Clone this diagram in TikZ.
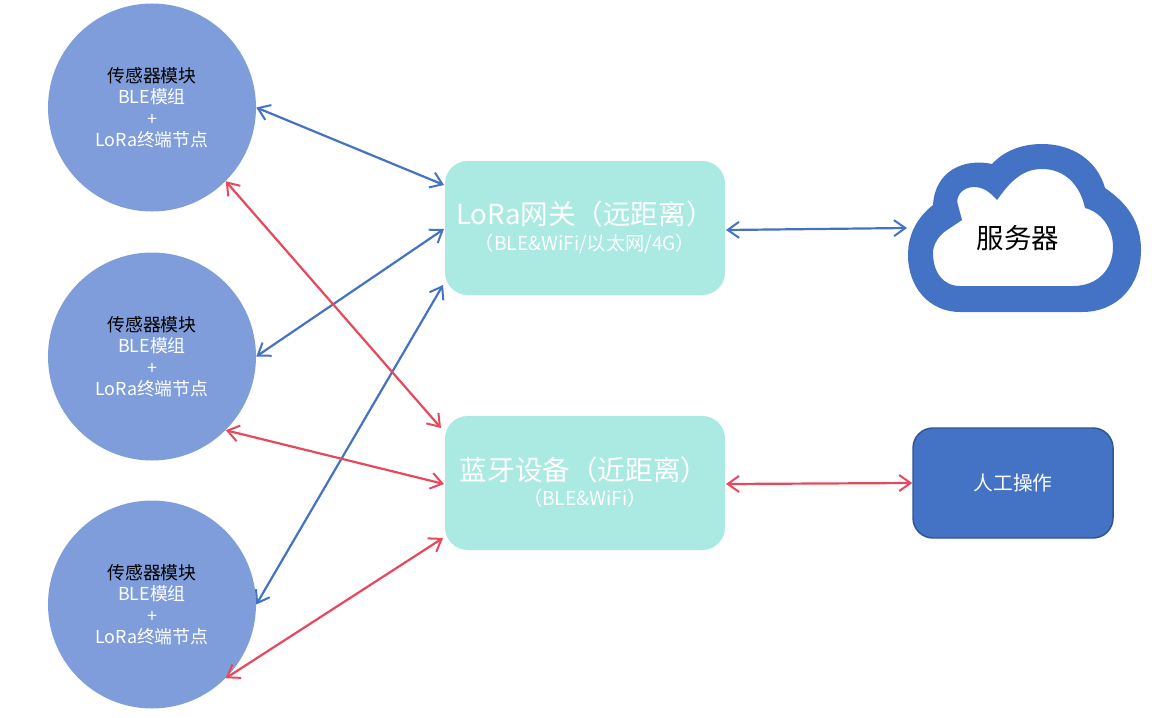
\documentclass[tikz,border=0pt]{standalone}
\usepackage{fontspec}
\setmainfont{Noto Sans CJK SC}
\usetikzlibrary{arrows.meta}
\definecolor{cblue}{HTML}{4472C4}
\definecolor{cred}{HTML}{E8485C}
\definecolor{ccircle}{HTML}{7F9DDB}
\definecolor{cbox}{HTML}{ABE9E3}
\definecolor{cborder}{HTML}{2F5597}
\tikzset{
  sensor/.style={circle,fill=ccircle,draw=none,minimum size=156pt,inner sep=0pt,align=center,text=white,font=\fontsize{13.4}{16.1}\selectfont},
  linkbox/.style={rectangle,rounded corners=17pt,fill=cbox,draw=none,minimum width=210pt,minimum height=100.5pt,inner sep=0pt},
  title/.style={text=white,inner sep=0pt,font=\fontsize{20.7}{24}\selectfont},
  subtitle/.style={text=white,inner sep=0pt,font=\fontsize{14.4}{16}\selectfont},
  manualbox/.style={rectangle,rounded corners=15pt,fill=cblue,draw=cborder,line width=1.1pt,minimum width=150pt,minimum height=82.5pt,inner sep=0pt,text=white,font=\fontsize{14.8}{18}\selectfont},
  bluelink/.style={cblue,line width=1.65pt,{Straight Barb[length=8.5pt,width=12pt,line width=1.5pt]}-{Straight Barb[length=8.5pt,width=12pt,line width=1.5pt]}},
  redlink/.style={cred,line width=1.65pt,{Straight Barb[length=8.5pt,width=12pt,line width=1.5pt]}-{Straight Barb[length=8.5pt,width=12pt,line width=1.5pt]}},
}
\newcommand{\sensortext}{{\color{black}传感器模块}\\BLE模组\\+\\LoRa终端节点}
\begin{document}
\begin{tikzpicture}[x=0.75pt,y=-0.75pt]
\useasboundingbox (0,0) rectangle (1152,717);
\node[sensor] (s1) at (152,107.5) {\sensortext};
\node[sensor] (s2) at (152,356.5) {\sensortext};
\node[sensor] (s3) at (152,604.5) {\sensortext};
\node[linkbox] (gw) at (585,228) {};
\node[linkbox] (ble) at (585,483) {};
\node[title] (gwt) at (585,214) {LoRa网关（远距离）};
\node[subtitle] (gws) at (585,244) {（BLE\&WiFi/以太网/4G）};
\node[title] (blet) at (584,470) {蓝牙设备（近距离）};
\node[subtitle] (bles) at (585,498) {（BLE\&WiFi）};
\node[manualbox] (man) at (1013,483) {人工操作};
\fill[cblue,even odd rule]
  (960,312) -- (1082,312) .. controls (1118,312) and (1141,285) .. (1141,250)
  .. controls (1141,222) and (1127,203) .. (1105,188)
  .. controls (1097,160) and (1072,144) .. (1042,144)
  .. controls (1020,144) and (1003,152) .. (992,164)
  .. controls (965,158) and (935,170) .. (933,205)
  .. controls (918,217) and (908,233) .. (908,255)
  .. controls (908,288) and (930,312) .. (960,312) -- cycle
  (960,286) -- (1073,286) .. controls (1097,286) and (1113,270) .. (1113,247)
  .. controls (1113,228) and (1101,212) .. (1085,208)
  .. controls (1080,185) and (1065,169) .. (1042,169)
  .. controls (1020,169) and (1008,185) .. (997,200)
  .. controls (990,192) and (983,187) .. (974,187)
  .. controls (962,187) and (955,197) .. (958,205)
  -- (962,220) -- (947,230)
  .. controls (938,236) and (933,245) .. (933,253)
  .. controls (933,272) and (943,286) .. (960,286) -- cycle;
\node[inner sep=0pt,font=\fontsize{20.6}{24}\selectfont] (srv) at (1018,238) {服务器};
\coordinate (srvport) at (907,228);
\coordinate (gwa) at (444,185);
\coordinate (gwb) at (444,229);
\coordinate (gwc) at (443,285);
\coordinate (gwr) at (726,230);
\coordinate (blea) at (441,428);
\coordinate (bleb) at (444,484);
\coordinate (blec) at (443,538);
\coordinate (bler) at (726,484);
\draw[bluelink] (s1.east) -- (gwa);
\draw[bluelink] (s2.east) -- (gwb);
\draw[bluelink] (s3.east) -- (gwc);
\draw[redlink] (s1.-45) -- (blea);
\draw[redlink] (s2.-45) -- (bleb);
\draw[redlink] (s3.-45) -- (blec);
\draw[bluelink] (gwr) -- (srvport);
\draw[redlink] (bler) -- (man.west);
\end{tikzpicture}
\end{document}
